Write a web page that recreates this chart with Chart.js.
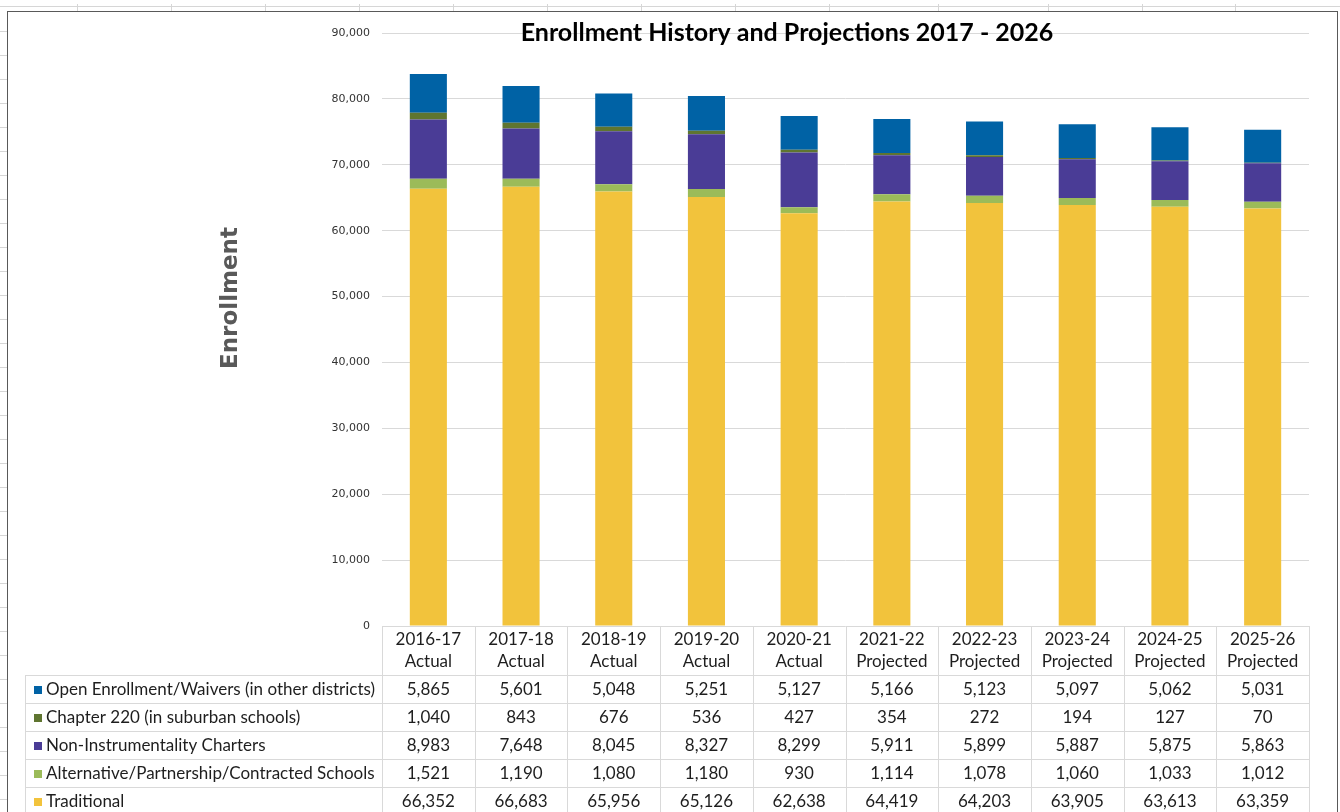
<!DOCTYPE html>
<html>
<head>
<meta charset="utf-8">
<title>Enrollment History and Projections 2017 - 2026</title>
<script src="https://cdn.jsdelivr.net/npm/chart.js@4.4.1/dist/chart.umd.min.js"></script>
<style>
  html, body { margin: 0; padding: 0; background: #fff; }
  #wrap { width: 1340px; height: 812px; }
</style>
</head>
<body>
<div id="wrap"><canvas id="myChart" width="1340" height="812"></canvas></div>
<script>
// school years and whether the number is actual or projected
const years = ['2016-17', '2017-18', '2018-19', '2019-20', '2020-21', '2021-22', '2022-23', '2023-24', '2024-25', '2025-26'];
const status = ['Actual', 'Actual', 'Actual', 'Actual', 'Actual', 'Projected', 'Projected', 'Projected', 'Projected', 'Projected'];

// series, bottom of the stack first
const traditional = [66352, 66683, 65956, 65126, 62638, 64419, 64203, 63905, 63613, 63359];
const alternative = [1521, 1190, 1080, 1180, 930, 1114, 1078, 1060, 1033, 1012];
const charters = [8983, 7648, 8045, 8327, 8299, 5911, 5899, 5887, 5875, 5863];
const chapter220 = [1040, 843, 676, 536, 427, 354, 272, 194, 127, 70];
const openEnrollment = [5865, 5601, 5048, 5251, 5127, 5166, 5123, 5097, 5062, 5031];

const yMax = 90000;
const yStep = 10000;

const tableFont = 'Lato, "Open Sans", sans-serif';

// sheet background, the data table under the bars and the two titles
const sheetAndTable = {
    id: 'sheetAndTable',
    beforeDraw(chart) {
        const ctx = chart.ctx;
        ctx.save();
        ctx.fillStyle = '#fff';
        ctx.fillRect(0, 0, chart.width, chart.height);

        // excel cells peeking out around the chart object
        ctx.strokeStyle = '#d6d6d6';
        ctx.lineWidth = 1;
        ctx.beginPath();
        ctx.moveTo(0, 6.5); ctx.lineTo(chart.width, 6.5);
        [77, 171, 265, 359, 453, 547, 641, 735, 829, 938, 1048, 1142, 1235].forEach(x => {
            ctx.moveTo(x + 0.5, 4); ctx.lineTo(x + 0.5, 11);
        });
        for (let y = 31; y < chart.height; y += 24) {
            ctx.moveTo(0, y + 0.5); ctx.lineTo(7, y + 0.5);
        }
        ctx.stroke();

        ctx.strokeStyle = '#595959';
        ctx.strokeRect(7.5, 11.5, 1330, 820);
        ctx.restore();
    },
    afterDraw(chart) {
        const ctx = chart.ctx;
        const area = chart.chartArea;
        const xs = chart.scales.x;
        const colW = (area.right - area.left) / years.length;
        const tableLeft = 25;
        const rowTop = 675;
        const rowH = 28;
        const ds = chart.data.datasets.slice().reverse();

        ctx.save();
        // grid of the table
        ctx.strokeStyle = '#d9d9d9';
        ctx.lineWidth = 1;
        ctx.beginPath();
        for (let i = 0; i <= years.length; i++) {
            const x = Math.round(area.left + i * colW) + 0.5;
            ctx.moveTo(x, area.bottom); ctx.lineTo(x, chart.height);
        }
        ctx.moveTo(tableLeft + 0.5, rowTop); ctx.lineTo(tableLeft + 0.5, chart.height);
        for (let r = 0; r <= ds.length; r++) {
            const y = rowTop + r * rowH + 0.5;
            ctx.moveTo(tableLeft, y); ctx.lineTo(area.right, y);
        }
        ctx.stroke();

        // header: year over actual/projected
        ctx.fillStyle = '#1e1e1e';
        ctx.font = '17px ' + tableFont;
        ctx.textAlign = 'center';
        ctx.textBaseline = 'middle';
        years.forEach((yr, i) => {
            const cx = xs.getPixelForValue(i);
            ctx.fillText(yr, cx, 640);
            ctx.fillText(status[i], cx, 662);
        });

        // one row per series, same order as the stack seen from above
        ds.forEach((d, r) => {
            const cy = rowTop + r * rowH + rowH / 2 + 1;
            ctx.fillStyle = d.backgroundColor;
            ctx.fillRect(34, Math.round(cy - 4), 8, 8);
            ctx.fillStyle = '#1e1e1e';
            ctx.textAlign = 'left';
            ctx.fillText(d.label, 46, cy);
            ctx.textAlign = 'center';
            d.data.forEach((v, i) => {
                ctx.fillText(v.toLocaleString('en-US'), xs.getPixelForValue(i), cy);
            });
        });

        // chart title
        ctx.fillStyle = '#000';
        ctx.font = 'bold 25px ' + tableFont;
        ctx.fillText('Enrollment History and Projections 2017 - 2026', 787, 33);

        // axis title
        ctx.translate(231, 298);
        ctx.rotate(-Math.PI / 2);
        ctx.fillStyle = '#595959';
        ctx.font = 'bold 23px "DejaVu Sans", sans-serif';
        ctx.fillText('Enrollment', 0, 0);
        ctx.restore();
    }
};

const config = {
    type: 'bar',
    data: {
        labels: years,
        datasets: [
            { label: 'Traditional', data: traditional, backgroundColor: '#F2C33C' },
            { label: 'Alternative/Partnership/Contracted Schools', data: alternative, backgroundColor: '#9BBB59' },
            { label: 'Non-Instrumentality Charters', data: charters, backgroundColor: '#4A3C96' },
            { label: 'Chapter 220 (in suburban schools)', data: chapter220, backgroundColor: '#5F7530' },
            { label: 'Open Enrollment/Waivers (in other districts)', data: openEnrollment, backgroundColor: '#0062A5' }
        ]
    },
    options: {
        responsive: false,
        animation: false,
        devicePixelRatio: 1,
        layout: { padding: { left: 0, right: 31, top: 33, bottom: 0 } },
        datasets: { bar: { categoryPercentage: 0.8, barPercentage: 0.5 } },
        plugins: {
            legend: { display: false },
            tooltip: { enabled: false }
        },
        scales: {
            x: {
                stacked: true,
                ticks: { display: false },
                grid: { display: false },
                border: { display: false },
                afterFit(scale) { scale.height = 186; }
            },
            y: {
                stacked: true,
                min: 0,
                max: yMax,
                ticks: {
                    stepSize: yStep,
                    padding: 12,
                    color: '#333',
                    font: { family: '"DejaVu Sans", sans-serif', size: 11 }
                },
                grid: { color: '#d9d9d9', drawTicks: false },
                border: { display: false },
                afterFit(scale) { scale.width = 382; }
            }
        }
    },
    plugins: [sheetAndTable]
};

new Chart(document.querySelector('#myChart').getContext('2d'), config);
</script>
</body>
</html>
